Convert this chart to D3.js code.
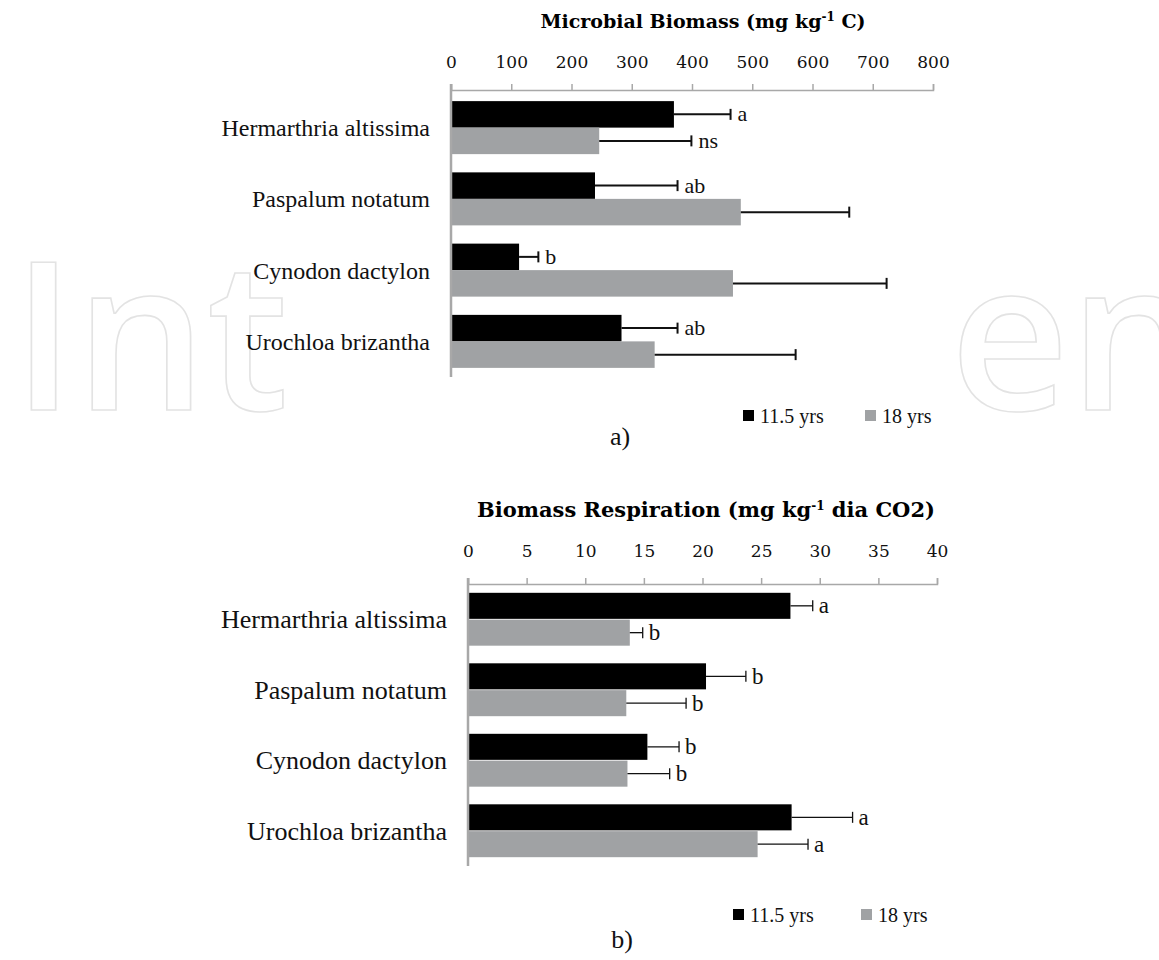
<!DOCTYPE html>
<html><head><meta charset="utf-8">
<script src="https://cdn.jsdelivr.net/npm/d3@7/dist/d3.min.js"></script>
<style>body{margin:0;background:#fff}svg{display:block}</style>
</head><body>
<script>
// Grass species (rows) and pasture ages (series)
const species = ["Hermarthria altissima", "Paspalum notatum", "Cynodon dactylon", "Urochloa brizantha"];
const ages = ["11.5 yrs", "18 yrs"];

// a) Microbial biomass C (mg kg-1)
const biomassYoung = [370, 239, 113, 283];
const biomassYoungErr = [94, 137, 32, 93];
const biomassOld = [246, 481, 468, 338];
const biomassOldErr = [153, 180, 255, 234];
const biomassYoungLetters = ["a", "ab", "b", "ab"];
const biomassOldLetters = ["ns", "", "", ""];
const biomassTicks = [0, 100, 200, 300, 400, 500, 600, 700, 800];

// b) Biomass respiration (mg kg-1 day CO2)
const respYoung = [27.5, 20.3, 15.3, 27.6];
const respYoungErr = [1.9, 3.4, 2.7, 5.2];
const respOld = [13.8, 13.5, 13.6, 24.7];
const respOldErr = [1.1, 5.1, 3.6, 4.3];
const respYoungLetters = ["a", "b", "b", "a"];
const respOldLetters = ["b", "b", "b", "a"];
const respTicks = [0, 5, 10, 15, 20, 25, 30, 35, 40];

const W = 1159, H = 960;
const barColors = ["#000000", "#a0a2a4"];
const axisColor = "#a8a8a8";
const serif = "'Liberation Serif', 'Times New Roman', serif";

const svg = d3.select("body").append("svg").attr("width", W).attr("height", H);

// faint outlined publisher mark behind the upper panel
const wm = svg.append("g")
  .attr("fill", "#fff").attr("stroke", "#e3e3e3").attr("stroke-width", 1.6)
  .style("font-family", "'Open Sans', sans-serif").style("font-size", "207px").style("font-weight", 600);
wm.append("text").attr("x", 12).attr("y", 410).text("Int");
wm.append("text").attr("x", 950).attr("y", 410).text("en");

function panel(o) {
  const g = svg.append("g");
  const x = d3.scaleLinear().domain([0, o.max]).range([o.x0, o.x1]);
  const y = d3.scaleBand().domain(species).range(o.yRange)
    .paddingInner(o.pad).paddingOuter(o.pad / 2);
  const ySub = d3.scaleBand().domain([0, 1]).range([0, y.bandwidth()]).paddingInner(o.gap);

  // title with superscript exponent
  const t = g.append("text").attr("x", o.titleX).attr("y", o.titleY)
    .attr("text-anchor", "middle")
    .style("font-family", "'DejaVu Serif', serif").style("font-weight", "bold")
    .style("font-size", o.titleSize + "px");
  t.append("tspan").text(o.title[0]);
  t.append("tspan").attr("dy", -7).style("font-size", "12px").text("-1");
  t.append("tspan").attr("dy", 7).text(o.title[1]);

  // value axis on top
  const ax = g.append("g").attr("transform", `translate(0,${o.axisY})`)
    .call(d3.axisTop(x).tickValues(o.ticks).tickSize(6).tickPadding(o.tickPad).tickFormat(d3.format("d")));
  ax.select(".domain").attr("stroke", axisColor).attr("stroke-width", 1.5);
  ax.selectAll(".tick line").attr("stroke", axisColor).attr("stroke-width", 1.5);
  ax.selectAll(".tick text").attr("fill", "#111")
    .style("font-family", "'DejaVu Serif', serif").style("font-size", o.tickSize + "px");

  // category labels
  g.selectAll(".cat").data(species).join("text")
    .attr("x", o.x0 - 21).attr("y", d => y(d) + y.bandwidth() / 2)
    .attr("dy", "0.35em").attr("text-anchor", "end")
    .style("font-family", serif).style("font-size", o.catSize + "px").attr("fill", "#111")
    .text(d => d);

  const series = [
    { vals: o.young, errs: o.youngErr, letters: o.youngLetters },
    { vals: o.old, errs: o.oldErr, letters: o.oldLetters }
  ];
  series.forEach((s, si) => {
    const rows = species.map((sp, i) => ({ sp, v: s.vals[i], e: s.errs[i], l: s.letters[i] }));
    const cy = d => y(d.sp) + ySub(si) + ySub.bandwidth() / 2;
    g.selectAll(null).data(rows).join("rect")
      .attr("x", x(0)).attr("y", d => y(d.sp) + ySub(si))
      .attr("width", d => x(d.v) - x(0)).attr("height", ySub.bandwidth())
      .attr("fill", barColors[si]);
    g.selectAll(null).data(rows).join("line")
      .attr("x1", d => x(d.v)).attr("x2", d => x(d.v + d.e))
      .attr("y1", cy).attr("y2", cy)
      .attr("stroke", "#111").attr("stroke-width", o.errW);
    g.selectAll(null).data(rows).join("line")
      .attr("x1", d => x(d.v + d.e)).attr("x2", d => x(d.v + d.e))
      .attr("y1", d => cy(d) - 5.5).attr("y2", d => cy(d) + 5.5)
      .attr("stroke", "#111").attr("stroke-width", o.errW);
    g.selectAll(null).data(rows.filter(d => d.l)).join("text")
      .attr("x", d => x(d.v + d.e) + o.letterGap).attr("y", cy).attr("dy", "0.32em")
      .style("font-family", serif).style("font-size", o.letterSize + "px").attr("fill", "#111")
      .text(d => d.l);
  });

  // category axis line
  g.append("line").attr("x1", o.x0).attr("x2", o.x0)
    .attr("y1", o.axisY - 6).attr("y2", o.yRange[1])
    .attr("stroke", axisColor).attr("stroke-width", 2.5);

  // legend
  const lg = g.append("g");
  ages.forEach((a, i) => {
    lg.append("rect").attr("x", o.legX[i]).attr("y", o.legY - 13).attr("width", 11).attr("height", 11)
      .attr("fill", barColors[i]);
    lg.append("text").attr("x", o.legX[i] + 17).attr("y", o.legY)
      .style("font-family", serif).style("font-size", "20px").attr("fill", "#111").text(a);
  });

  g.append("text").attr("x", o.tagX).attr("y", o.tagY).attr("text-anchor", "middle")
    .style("font-family", serif).style("font-size", "26px").attr("fill", "#111").text(o.tag);
}

panel({
  max: 800, ticks: biomassTicks, x0: 451, x1: 933, axisY: 90, yRange: [92, 377], pad: 0.256, gap: 0,
  title: ["Microbial Biomass (mg kg", " C)"], titleX: 703, titleY: 28, titleSize: 19,
  tickPad: 16, tickSize: 17, catSize: 24, errW: 2, letterGap: 7, letterSize: 22,
  young: biomassYoung, youngErr: biomassYoungErr, youngLetters: biomassYoungLetters,
  old: biomassOld, oldErr: biomassOldErr, oldLetters: biomassOldLetters,
  legX: [743, 865], legY: 423, tag: "a)", tagX: 620, tagY: 445
});

panel({
  max: 40, ticks: respTicks, x0: 468, x1: 937, axisY: 584, yRange: [584, 866], pad: 0.25, gap: 0.03,
  title: ["Biomass Respiration (mg kg", " dia CO2)"], titleX: 706, titleY: 517, titleSize: 21,
  tickPad: 21, tickSize: 17, catSize: 26, errW: 1.3, letterGap: 6, letterSize: 23,
  young: respYoung, youngErr: respYoungErr, youngLetters: respYoungLetters,
  old: respOld, oldErr: respOldErr, oldLetters: respOldLetters,
  legX: [733, 861], legY: 922, tag: "b)", tagX: 622, tagY: 948
});
</script>
</body></html>
